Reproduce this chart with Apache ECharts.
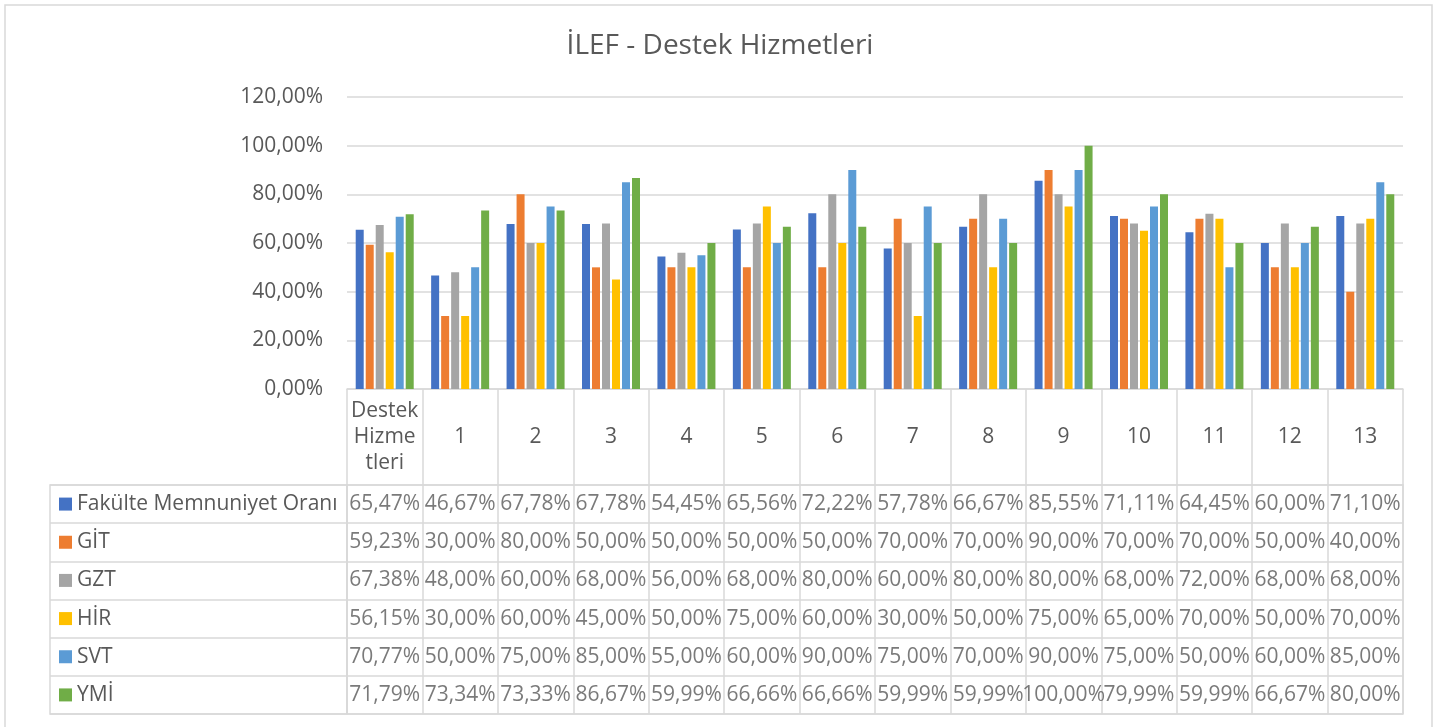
<!DOCTYPE html>
<html>
<head>
<meta charset="utf-8">
<title>İLEF - Destek Hizmetleri</title>
<script src="https://cdn.jsdelivr.net/npm/echarts@6/dist/echarts.min.js"></script>
<style>
  html, body { margin: 0; padding: 0; background: #fff; }
  #chart { width: 1440px; height: 727px; }
</style>
</head>
<body>
<div id="chart"></div>
<script>
// categories (header row of the data table)
const categories = ['Destek\nHizme\ntleri', '1', '2', '3', '4', '5', '6', '7', '8', '9', '10', '11', '12', '13'];

const seriesNames = ['Fakülte Memnuniyet Oranı', 'GİT', 'GZT', 'HİR', 'SVT', 'YMİ'];
const seriesColors = ['#4472C4', '#ED7D31', '#A5A5A5', '#FFC000', '#5B9BD5', '#70AD47'];

// values in percent
const fakulte = [65.47, 46.67, 67.78, 67.78, 54.45, 65.56, 72.22, 57.78, 66.67, 85.55, 71.11, 64.45, 60.00, 71.10];
const git     = [59.23, 30.00, 80.00, 50.00, 50.00, 50.00, 50.00, 70.00, 70.00, 90.00, 70.00, 70.00, 50.00, 40.00];
const gzt     = [67.38, 48.00, 60.00, 68.00, 56.00, 68.00, 80.00, 60.00, 80.00, 80.00, 68.00, 72.00, 68.00, 68.00];
const hir     = [56.15, 30.00, 60.00, 45.00, 50.00, 75.00, 60.00, 30.00, 50.00, 75.00, 65.00, 70.00, 50.00, 70.00];
const svt     = [70.77, 50.00, 75.00, 85.00, 55.00, 60.00, 90.00, 75.00, 70.00, 90.00, 75.00, 50.00, 60.00, 85.00];
const ymi     = [71.79, 73.34, 73.33, 86.67, 59.99, 66.66, 66.66, 59.99, 59.99, 100.00, 79.99, 59.99, 66.67, 80.00];

const allValues = [fakulte, git, gzt, hir, svt, ymi];

const FONT = '"Open Sans", "Noto Sans", sans-serif';
const TEXT = '#595959';
const LINE = '#d9d9d9';

// 65.47 -> "65,47%"
const pct = v => v.toFixed(2).replace('.', ',') + '%';

const chart = echarts.init(document.getElementById('chart'));

// rich styles for the colored legend keys in the table
const rich = {};
seriesColors.forEach((c, i) => {
  rich['m' + i] = { width: 13, height: 13, backgroundColor: c };
});
rich.t = { fontSize: 21, fontFamily: FONT, color: TEXT, padding: [0, 0, 0, 5] };

// table cells: [column, row, value]
const cellData = [];
allValues.forEach((arr, r) => {
  arr.forEach((v, c) => cellData.push([c, r, v]));
});

const barSeries = allValues.map((arr, i) => ({
  name: seriesNames[i],
  type: 'bar',
  xAxisIndex: 0,
  yAxisIndex: 0,
  data: arr.map(v => v / 100),
  barWidth: 8,
  barGap: '25%',
  itemStyle: { color: seriesColors[i] }
}));

chart.setOption({
  animation: false,
  textStyle: { fontFamily: FONT },
  title: {
    text: 'İLEF - Destek Hizmetleri',
    left: 'center',
    top: 27,
    textStyle: { fontSize: 28, fontWeight: 'normal', color: TEXT, fontFamily: FONT }
  },
  graphic: [{
    type: 'rect',
    shape: { x: 5, y: 5, width: 1427, height: 740 },
    style: { fill: 'none', stroke: LINE, lineWidth: 1.5 },
    silent: true
  }],
  grid: [
    // bars
    { left: 347, width: 1056, top: 97, height: 292 },
    // value cells of the data table
    { left: 347, width: 1056, top: 485, height: 229, show: true, borderColor: LINE, borderWidth: 1.5 },
    // series name column of the data table
    { left: 50, width: 297, top: 485, height: 229, show: true, borderColor: LINE, borderWidth: 1.5 }
  ],
  xAxis: [
    {
      gridIndex: 0,
      type: 'category',
      data: categories,
      axisLine: { lineStyle: { color: LINE, width: 1.5 } },
      axisTick: { show: true, length: 96, lineStyle: { color: LINE, width: 1.5 } },
      axisLabel: {
        color: TEXT, fontSize: 21, fontFamily: FONT,
        margin: 48, verticalAlign: 'middle', lineHeight: 26, interval: 0
      }
    },
    {
      gridIndex: 1,
      type: 'category',
      data: categories,
      axisLine: { show: false },
      axisTick: { show: false },
      axisLabel: { show: false },
      splitLine: { show: true, interval: 0, lineStyle: { color: LINE, width: 1.5 } }
    },
    { gridIndex: 2, type: 'value', show: false }
  ],
  yAxis: [
    {
      gridIndex: 0,
      type: 'value',
      min: 0,
      max: 1.2,
      interval: 0.2,
      axisLine: { show: false },
      axisTick: { show: false },
      axisLabel: {
        color: TEXT, fontSize: 21, fontFamily: FONT, margin: 24,
        formatter: v => pct(v * 100)
      },
      splitLine: { lineStyle: { color: LINE, width: 1.5 } }
    },
    {
      gridIndex: 1,
      type: 'category',
      data: seriesNames,
      inverse: true,
      axisLine: { show: false },
      axisTick: { show: false },
      axisLabel: { show: false },
      splitLine: { show: true, interval: 0, lineStyle: { color: LINE, width: 1.5 } }
    },
    {
      gridIndex: 2,
      type: 'category',
      data: seriesNames,
      inverse: true,
      axisLine: { show: false },
      axisTick: { show: false },
      splitLine: { show: true, interval: 0, lineStyle: { color: LINE, width: 1.5 } },
      axisLabel: {
        inside: true,
        margin: 9,
        interval: 0,
        formatter: (name, idx) => '{m' + idx + '|}{t|' + name + '}',
        rich: rich
      }
    }
  ],
  series: barSeries.concat([{
    type: 'scatter',
    xAxisIndex: 1,
    yAxisIndex: 1,
    data: cellData,
    symbolSize: 1,
    itemStyle: { color: 'rgba(0,0,0,0)' },
    silent: true,
    label: {
      show: true,
      position: 'inside',
      color: TEXT,
      fontSize: 21,
      fontFamily: FONT,
      formatter: p => pct(p.value[2])
    },
    labelLayout: { hideOverlap: false }
  }])
});
</script>
</body>
</html>
